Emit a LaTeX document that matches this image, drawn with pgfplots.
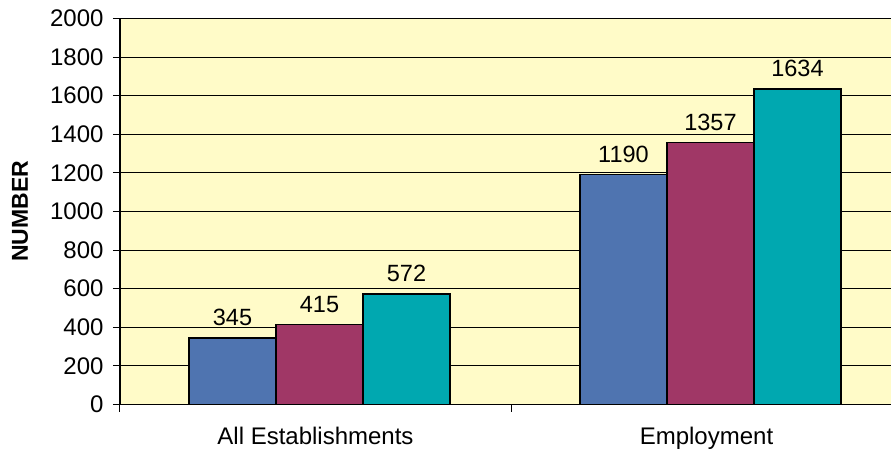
\documentclass[border=0pt]{standalone}
\usepackage{fontspec}
\setmainfont{Liberation Sans}
\usepackage{pgfplots}
\usetikzlibrary{calc}
\pgfplotsset{compat=1.18}
\definecolor{bgyellow}{HTML}{FFFBC8}
\definecolor{cblue}{HTML}{4F74B0}
\definecolor{cmaroon}{HTML}{A03766}
\definecolor{cteal}{HTML}{00A8B0}
\begin{document}
\begin{tikzpicture}
\begin{axis}[
  width=782pt, height=386pt, scale only axis,
  xmin=-0.5, xmax=1.5, ymin=0, ymax=2000,
  ytick={0,200,...,2000},
  xtick={-0.5,0.5,1.5}, xticklabels={},
  extra x ticks={0,1},
  extra x tick labels={All Establishments, Employment},
  extra x tick style={major tick length=0pt, xticklabel style={yshift=-19pt}},
  axis x line*=bottom, axis y line*=left,
  axis line style={-, line width=1.3pt, black},
  ymajorgrids, grid style={black, line width=1.1pt},
  axis background/.style={fill=bgyellow},
  tick align=outside,
  tick style={black, line width=1pt},
  major tick length=7pt,
  /pgf/number format/.cd, assume math mode=true, 1000 sep={}, /pgfplots/.cd,
  ticklabel style={font=\fontsize{24}{27}\selectfont},
  yticklabel style={xshift=-6pt},
  ylabel={NUMBER},
  ylabel style={font=\fontsize{23}{27}\selectfont\bfseries, yshift=15pt},
  ybar, bar width=0.2225,
  every axis plot/.append style={draw=black, line width=1.3pt},
  nodes near coords,
  every node near coord/.append style={font=\fontsize{23.5}{27}\selectfont, black, yshift=8pt},
  clip=false,
]
\addplot[fill=cblue, bar shift=-0.2123] coordinates {(0,345) (1,1190)};
\addplot[fill=cmaroon, bar shift=0.0102] coordinates {(0,415) (1,1357)};
\addplot[fill=cteal, bar shift=0.2327] coordinates {(0,572) (1,1634)};
\coordinate (sw) at (rel axis cs:0,0);
\end{axis}
\pgfresetboundingbox
\useasboundingbox ($(sw)+(-120pt,-48.5pt)$) rectangle ($(sw)+(771pt,404.5pt)$);
\end{tikzpicture}
\end{document}
